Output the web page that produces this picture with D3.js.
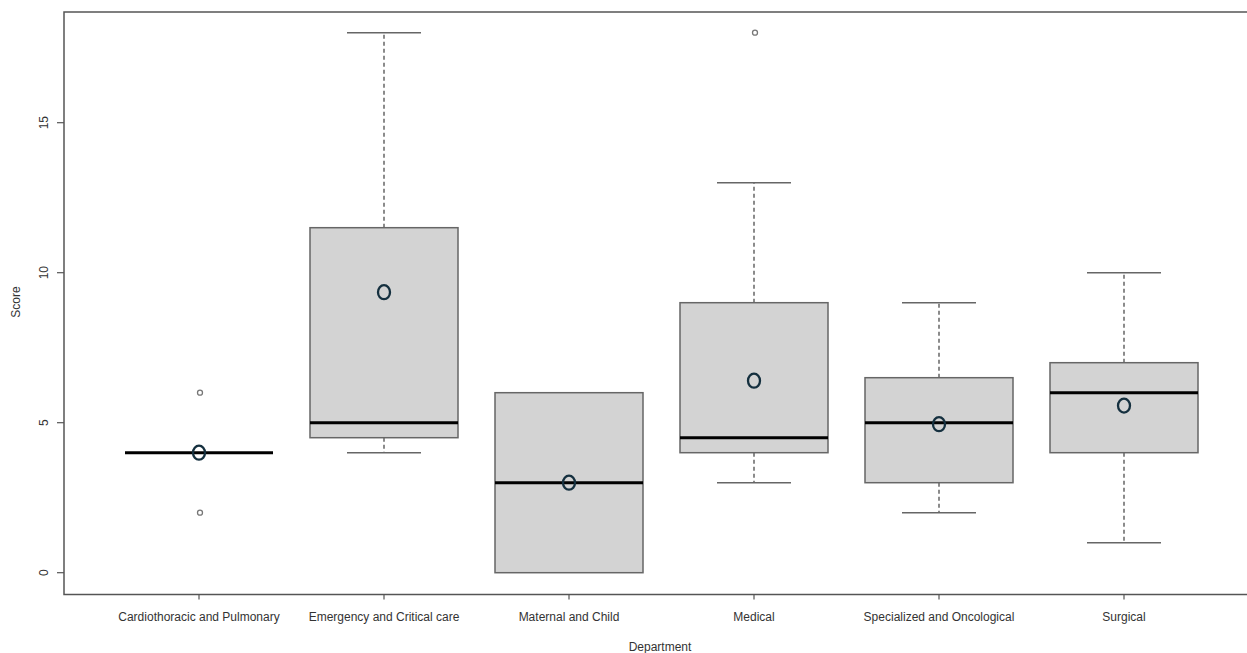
<!DOCTYPE html>
<html><head><meta charset="utf-8">
<script src="https://cdn.jsdelivr.net/npm/d3@7"></script>
<style>body{margin:0;background:#fff;overflow:hidden}text{font-family:"Liberation Sans",Arial,sans-serif}</style>
</head><body>
<svg id="c" width="1247" height="653"></svg>
<script>
const categories = ["Cardiothoracic and Pulmonary","Emergency and Critical care","Maternal and Child","Medical","Specialized and Oncological","Surgical"];
const whiskerLow = [4, 4, 0, 3, 2, 1];
const q1 = [4, 4.5, 0, 4, 3, 4];
const medians = [4, 5, 3, 4.5, 5, 6];
const q3 = [4, 11.5, 6, 9, 6.5, 7];
const whiskerHigh = [4, 18, 6, 13, 9, 10];
const means = [4.0, 9.35, 3.0, 6.4, 4.95, 5.57];
const outliers = [[2, 6], [], [], [18], [], []];
const yTicks = [0, 5, 10, 15];

const svg = d3.select("#c");
const L = 64, R = 1252, T = 12, B = 594.5;
const y = d3.scaleLinear().domain([0, 15]).range([572.7, 122.7]);
const x = d3.scalePoint().domain(categories).range([199, 1124]);
const bw = 148;
const data = categories.map((c, i) => ({c, lo: whiskerLow[i], q1: q1[i], med: medians[i], q3: q3[i], hi: whiskerHigh[i], mean: means[i], out: outliers[i]}));

const g = svg.append("g");
const grey = "#666";
data.forEach(d => {
  const cx = x(d.c);
  const gg = g.append("g");
  if (d.hi > d.q3) {
    gg.append("line").attr("x1", cx).attr("x2", cx).attr("y1", y(d.q3)).attr("y2", y(d.hi)).attr("stroke", grey).attr("stroke-width", 1.5).attr("stroke-dasharray", "4,3");
    gg.append("line").attr("x1", cx - bw/4).attr("x2", cx + bw/4).attr("y1", y(d.hi)).attr("y2", y(d.hi)).attr("stroke", grey).attr("stroke-width", 1.5);
  }
  if (d.lo < d.q1) {
    gg.append("line").attr("x1", cx).attr("x2", cx).attr("y1", y(d.q1)).attr("y2", y(d.lo)).attr("stroke", grey).attr("stroke-width", 1.5).attr("stroke-dasharray", "4,3");
    gg.append("line").attr("x1", cx - bw/4).attr("x2", cx + bw/4).attr("y1", y(d.lo)).attr("y2", y(d.lo)).attr("stroke", grey).attr("stroke-width", 1.5);
  }
  if (d.q3 > d.q1) {
    gg.append("rect").attr("x", cx - bw/2).attr("y", y(d.q3)).attr("width", bw).attr("height", y(d.q1) - y(d.q3))
      .attr("fill", "#d3d3d3").attr("stroke", grey).attr("stroke-width", 1.5);
  }
  gg.append("line").attr("x1", cx - bw/2).attr("x2", cx + bw/2).attr("y1", y(d.med)).attr("y2", y(d.med)).attr("stroke", "#000").attr("stroke-width", 3);
  d.out.forEach(o => {
    gg.append("circle").attr("cx", cx + 1).attr("cy", y(o)).attr("r", 2.5).attr("fill", "none").attr("stroke", "#777").attr("stroke-width", 1.3);
  });
  gg.append("ellipse").attr("cx", cx).attr("cy", y(d.mean)).attr("rx", 6).attr("ry", 7).attr("fill", "none").attr("stroke", "#15303f").attr("stroke-width", 2.3);
});

svg.append("rect").attr("x", L).attr("y", T).attr("width", R - L).attr("height", B - T).attr("fill", "none").attr("stroke", "#555").attr("stroke-width", 1.5);

const ya = svg.append("g");
yTicks.forEach(t => {
  ya.append("line").attr("x1", L - 7).attr("x2", L).attr("y1", y(t)).attr("y2", y(t)).attr("stroke", "#555").attr("stroke-width", 1.2);
  ya.append("text").attr("transform", `translate(48,${y(t)}) rotate(-90)`).attr("text-anchor", "middle").attr("font-size", 12).attr("fill", "#333").text(t);
});
categories.forEach(c => {
  svg.append("line").attr("x1", x(c)).attr("x2", x(c)).attr("y1", B).attr("y2", B + 5).attr("stroke", "#555").attr("stroke-width", 1.2);
  svg.append("text").attr("x", x(c)).attr("y", 621).attr("text-anchor", "middle").attr("font-size", 12).attr("fill", "#333").text(c);
});
svg.append("text").attr("x", 660).attr("y", 651).attr("text-anchor", "middle").attr("font-size", 12).attr("fill", "#333").text("Department");
svg.append("text").attr("transform", "translate(20,302) rotate(-90)").attr("text-anchor", "middle").attr("font-size", 12).attr("fill", "#333").text("Score");
</script>
</body></html>
